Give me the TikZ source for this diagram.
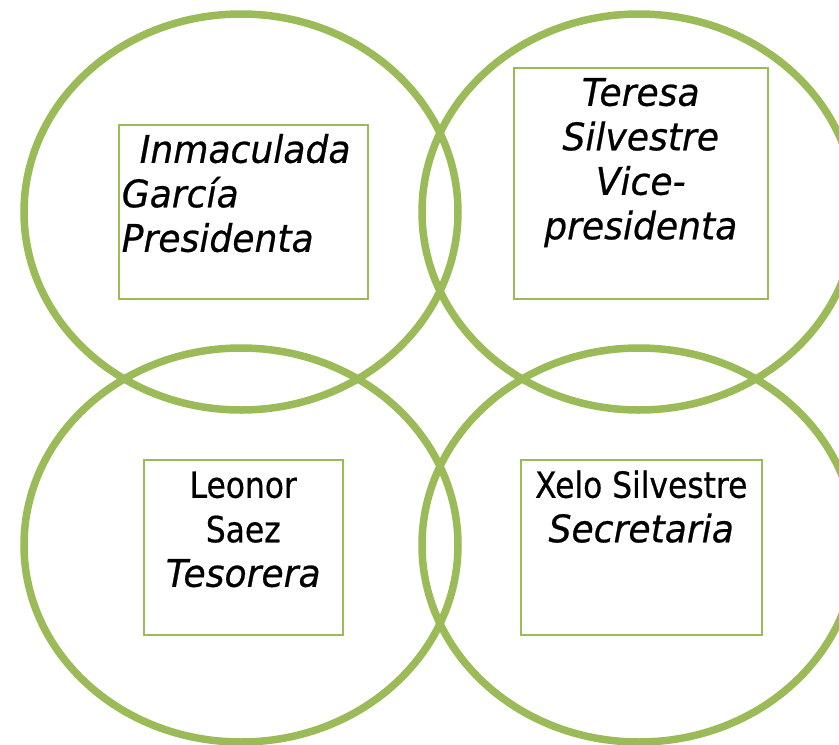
\documentclass[tikz,border=0pt]{standalone}
\usepackage{fontspec}
\usepackage{tikz}

% Verdana-like faces, narrowed a little
\newfontfamily\rolefont{DejaVu Sans}[FakeStretch=0.87, FakeBold=0.6]
\newfontfamily\roleitfont{DejaVu Sans}[FakeStretch=0.95, FakeBold=0.6]
\newcommand{\namestyle}{\rolefont\fontsize{36}{44.5}\selectfont}
\newcommand{\rolestyle}{\roleitfont\itshape\fontsize{38}{44.5}\selectfont}

% width, height, alignment, text
\newcommand{\boxtext}[4]{\parbox[t][#2][t]{#1}{#3\rule{0pt}{35pt}#4}}

\definecolor{ringgreen}{RGB}{155,187,89}

\tikzset{
    ring/.style={draw=ringgreen, line width=7.5pt},
    rolebox/.style={draw=ringgreen, line width=1.5pt, inner sep=3pt, anchor=north west}
}

\begin{document}
\begin{tikzpicture}[x=1pt, y=-1pt] % one unit = one pixel, y going down
    \useasboundingbox (0,0) rectangle (839,745);
    \clip (0,0) rectangle (839,745);

    % Four rings
    \draw[ring] (241,212) ellipse [x radius=217, y radius=198];
    \draw[ring] (639,212) ellipse [x radius=217, y radius=198];
    \draw[ring] (241,545) ellipse [x radius=217, y radius=197];
    \draw[ring] (639,545) ellipse [x radius=217, y radius=197];

    % One box per member
    \node[rolebox] (pres) at (118,124)
        {\boxtext{243pt}{168pt}{\raggedright}{\rolestyle\hspace*{18pt}Inmaculada\\García\\Presidenta}};
    \node[rolebox] (vice) at (513,67)
        {\boxtext{248pt}{225pt}{\centering}{\rolestyle Teresa\\Silvestre\\Vice-\\presidenta}};
    \node[rolebox] (treas) at (143,459)
        {\boxtext{193pt}{169pt}{\centering}{\namestyle Leonor\\Saez\\{\rolestyle Tesorera}}};
    \node[rolebox] (secr) at (520,459)
        {\boxtext{235pt}{169pt}{\centering}{\namestyle Xelo Silvestre\\{\rolestyle Secretaria}}};

\end{tikzpicture}
\end{document}
